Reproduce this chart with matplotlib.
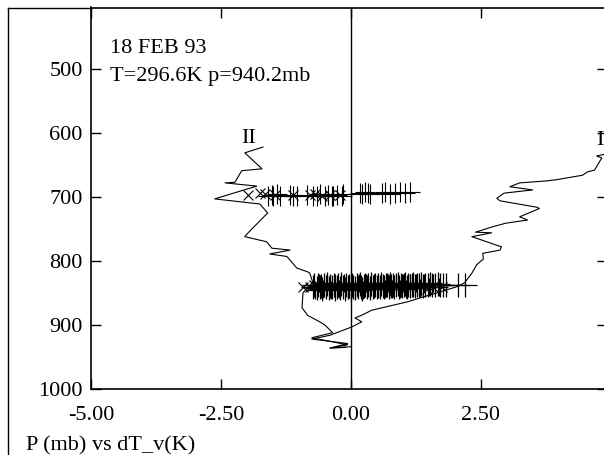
import matplotlib
matplotlib.use("Agg")
import matplotlib.pyplot as plt
from matplotlib.lines import Line2D

plt.rcParams['font.family'] = ['Liberation Serif', 'DejaVu Serif']

# ---- data ----
x_ticks = [-5.0, -2.5, 0.0, 2.5]
x_tick_labels = ["-5.00", "-2.50", "0.00", "2.50"]
y_ticks = [500, 600, 700, 800, 900, 1000]
y_tick_labels = ["500", "600", "700", "800", "900", "1000"]

curve2_dT = [-1.69, -2.04, -1.71, -2.10, -2.23, -2.42, -1.81, -2.62, -1.75, -1.60,
             -1.88, -2.00, -2.04, -1.62, -1.52, -1.17, -1.56, -1.23, -1.04, -0.83,
             -0.79, -0.73, -0.85, -0.92, -0.94, -0.83, -0.60, -0.50, -0.35, -0.75,
             -0.06, -0.40, -0.10]
curve2_p = [622, 631, 656, 659, 677, 678, 683, 703, 711, 725,
            748, 758, 762, 770, 780, 783, 789, 793, 811, 817,
            819, 834, 843, 850, 873, 885, 895, 900, 912, 920,
            931, 936, 935]

curve1_dT = [4.90, 4.73, 4.83, 4.69, 4.55, 4.46, 3.96, 3.75, 3.25, 3.06,
             3.50, 2.95, 2.81, 2.87, 3.58, 3.63, 3.25, 3.40, 2.98, 2.71,
             2.40, 2.71, 2.33, 2.90, 2.87, 2.54, 2.55, 2.42, 2.33, 2.19,
             2.05, 1.85, 1.08, 0.40, 0.23, 0.08, 0.21, 0.02, -0.40, -0.75,
             -0.06, -0.40, 0.0]
curve1_p = [633, 636, 639, 658, 661, 666, 673, 675, 678, 684,
            689, 694, 702, 706, 716, 718, 731, 736, 741, 747,
            755, 756, 762, 778, 783, 788, 797, 806, 819, 834,
            840, 845, 864, 877, 884, 889, 895, 903, 916, 922,
            929, 936, 934]

plus700_dT = [-1.60, -1.52, -1.50, -1.42, -1.37, -1.17, -1.12, -1.04, -0.85, -0.73,
              -0.65, -0.60, -0.50, -0.44, -0.37, -0.35, -0.27, -0.17, -0.15, 0.17,
              0.21, 0.27, 0.33, 0.37, 0.60, 0.65, 0.75, 0.85, 0.94, 1.04, 1.13]
plus700_p = [698, 697, 699, 696, 698, 697, 699, 698, 697, 699,
             698, 696, 698, 697, 699, 698, 697, 698, 696, 694,
             695, 693, 694, 695, 694, 693, 695, 694, 693, 694, 693]

cross700_dT = [-1.98, -1.75, -1.65, -1.45, -1.12, -0.79, -0.69, -0.55, -0.40, -0.21]
cross700_p = [697, 694, 695, 697, 697, 697, 696, 698, 697, 697]

plus840_dT = [-0.73, -0.70, -0.66, -0.63, -0.60, -0.57, -0.55, -0.51, -0.48, -0.45,
              -0.42, -0.40, -0.36, -0.33, -0.30, -0.27, -0.24, -0.21, -0.18, -0.15,
              -0.12, -0.09, -0.06, -0.03, 0.00, 0.03, 0.05, 0.08, 0.11, 0.14,
              0.17, 0.19, 0.22, 0.25, 0.28, 0.31, 0.33, 0.36, 0.39, 0.42,
              0.45, 0.47, 0.50, 0.53, 0.56, 0.59, 0.61, 0.64, 0.67, 0.70,
              0.73, 0.75, 0.78, 0.81, 0.84, 0.87, 0.90, 0.93, 0.96, 0.99,
              1.02, 1.05, 1.08, 1.11, 1.14, 1.17, 1.20, 1.24, 1.27, 1.31,
              1.35, 1.39, 1.43, 1.48, 1.52, 1.57, 1.62, 1.67, 1.72, 1.78,
              1.84, 2.06, 2.19]
plus840_p = [840, 838, 842, 837, 841, 839, 843, 838, 840, 836,
             842, 839, 841, 837, 843, 840, 838, 842, 836, 840,
             843, 838, 841, 839, 844, 837, 840, 842, 838, 841,
             836, 840, 843, 839, 837, 841, 838, 842, 836, 840,
             839, 837, 841, 838, 840, 836, 839, 841, 837, 838,
             840, 836, 839, 837, 841, 838, 836, 840, 837, 839,
             838, 836, 840, 837, 839, 838, 836, 839, 837, 838,
             836, 839, 837, 838, 836, 838, 837, 836, 838, 837,
             838, 838, 838]

plus840b_dT = [-0.68, -0.61, -0.53, -0.46, -0.38, -0.31, -0.22, -0.13, -0.05, 0.02,
               0.09, 0.16, 0.24, 0.30, 0.37, 0.44, 0.52, 0.58, 0.66, 0.72,
               0.80, 0.86, 0.94, 1.00, 1.07, 1.13, 1.19, 1.26, 1.33, 1.41,
               1.50, 1.59, 1.69]
plus840b_p = [845, 835, 844, 834, 845, 835, 844, 834, 845, 835,
              844, 834, 845, 835, 844, 834, 843, 835, 844, 835,
              843, 834, 844, 835, 843, 835, 842, 834, 842, 835,
              841, 835, 840]

cross840_dT = [-0.92, -0.79, -0.70, 1.46, 1.58, 1.75]
cross840_p = [841, 840, 838, 843, 841, 840]

date_text = "18 FEB 93"
cond_text = "T=296.6K p=940.2mb"
xlabel_text = "P (mb) vs dT_v(K)"

# ---- figure ----
fig = plt.figure(figsize=(6.04, 4.55), dpi=100)
W, H = 604.0, 455.0
ax = fig.add_axes([91 / W, (H - 389) / H, 516 / W, (389 - 7.5) / H])

lw = 0.8
ax.plot(curve2_dT, curve2_p, color='black', lw=lw)
ax.plot(curve1_dT, curve1_p, color='black', lw=lw)
ax.plot(plus700_dT, plus700_p, linestyle='none', marker='+', ms=15,
        mew=0.8, color='black')
ax.plot(cross700_dT, cross700_p, linestyle='none', marker='x', ms=7,
        mew=0.8, color='black')
ax.plot(plus840_dT, plus840_p, linestyle='none', marker='+', ms=17,
        mew=0.9, color='black')
ax.plot(plus840b_dT, plus840b_p, linestyle='none', marker='+', ms=13,
        mew=0.9, color='black')
ax.plot(cross840_dT, cross840_p, linestyle='none', marker='x', ms=7,
        mew=0.8, color='black')

ax.axvline(0.0, color='black', lw=1.0)

ax.set_xlim(-5.0, 4.93)
ax.set_ylim(1000, 404)

ax.set_xticks(x_ticks)
ax.set_xticklabels(x_tick_labels)
ax.set_yticks(y_ticks)
ax.set_yticklabels(y_tick_labels)
ax.tick_params(axis='both', direction='in', length=7, width=1.0,
               labelsize=16, top=True, right=True)
ax.tick_params(axis='x', pad=12)
ax.tick_params(axis='y', pad=6)
for s in ax.spines.values():
    s.set_linewidth(1.2)

ax.text(-4.63, 475, date_text, fontsize=16, va='baseline', ha='left')
ax.text(-4.63, 519, cond_text, fontsize=16, va='baseline', ha='left')
ax.text(-1.96, 616, "II", fontsize=16, va='baseline', ha='center')
ax.text(4.73, 619, "I", fontsize=16, va='baseline', ha='left', clip_on=False)

fig.text(26 / W, 1 - 450 / H, xlabel_text, fontsize=16, va='baseline', ha='left')

# outer frame lines
fig.add_artist(Line2D([8 / W, 8 / W], [0, 1 - 7.5 / H], transform=fig.transFigure,
                      color='black', lw=1.0))
fig.add_artist(Line2D([8 / W, 91 / W], [1 - 7.5 / H, 1 - 7.5 / H],
                      transform=fig.transFigure, color='black', lw=1.0))

fig.savefig("out.png", dpi=100)
